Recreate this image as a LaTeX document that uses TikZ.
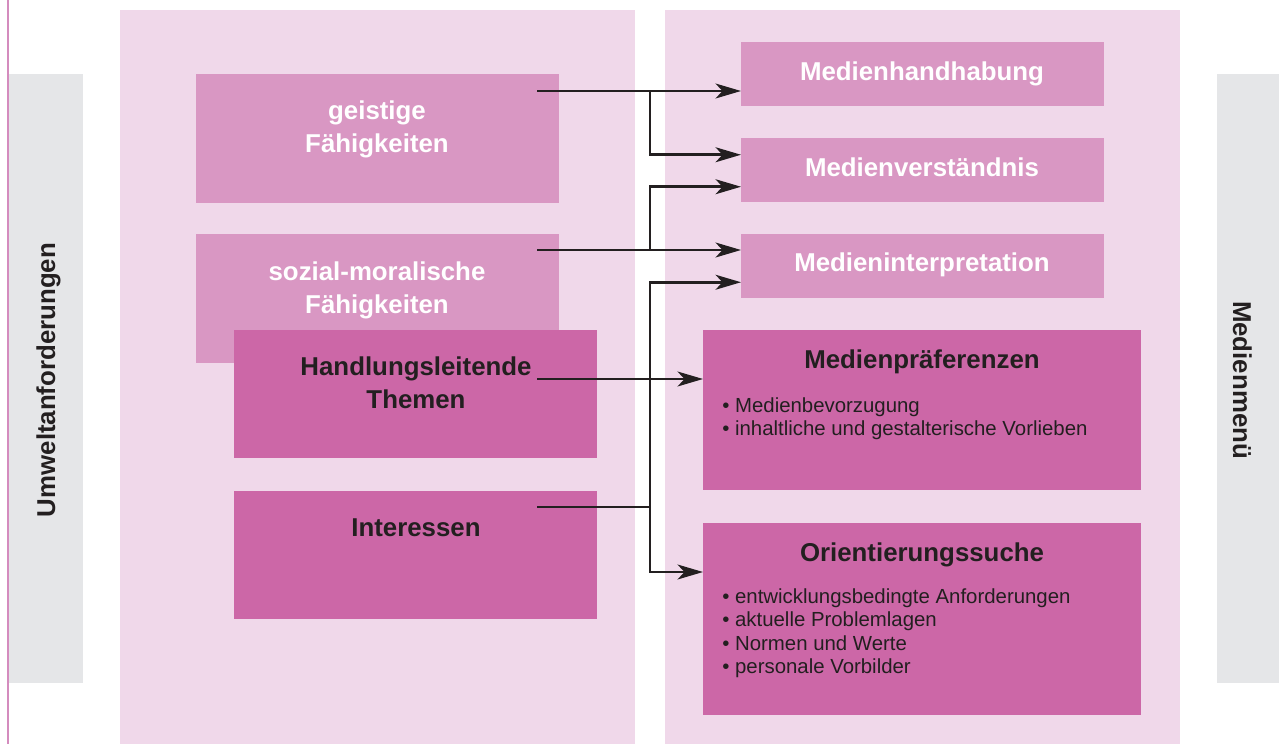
\documentclass[tikz,border=0pt]{standalone}
\usepackage{fontspec}
\setmainfont{Liberation Sans}
\usetikzlibrary{arrows.meta,positioning}

\definecolor{panelpink}{RGB}{240,216,234}
\definecolor{hellpink}{RGB}{217,151,195}
\definecolor{dunkelpink}{RGB}{204,103,167}
\definecolor{seitengrau}{RGB}{229,230,232}
\definecolor{linienpink}{RGB}{212,140,190}
\definecolor{schrift}{RGB}{35,31,32}

\tikzset{
  feld/.style={anchor=north west, inner sep=0pt, outer sep=0pt, minimum width=7.26cm},
  hell/.style={feld, fill=hellpink},
  dunkel/.style={feld, fill=dunkelpink},
  titel/.style={font=\fontsize{14.7}{18.7}\selectfont\bfseries, align=center, inner sep=0pt},
  liste/.style={font=\fontsize{11.6}{13.4}\selectfont, align=left, inner sep=0pt, anchor=north west, text=schrift},
  pfeil/.style={line width=1.5pt, draw=schrift, -{Stealth[length=14.5pt,width=8.5pt,inset=4pt]}},
}

\begin{document}
\begin{tikzpicture}[x=0.02cm, y=-0.02cm]
\useasboundingbox (0,0) rectangle (1279,744);
% background
\fill[panelpink] (120,10) rectangle (635,744);
\fill[panelpink] (665,10) rectangle (1180,744);
\fill[seitengrau] (9,74) rectangle (83,683);
\fill[seitengrau] (1217,74) rectangle (1279,683);
\draw[linienpink, line width=1.2pt] (8,0) -- (8,744);
\node[titel, rotate=90, anchor=base, text=schrift] (umwelt) at (55,380) {Umweltanforderungen};
\node[titel, rotate=-90, anchor=base, text=schrift] (menue) at (1233,380) {Medienmenü};

% left side
\node[hell, minimum height=2.58cm] (geist) at (196,74) {};
\node[hell, minimum height=2.58cm] (sozial) at (196,234) {};
\node[dunkel, minimum height=2.56cm] (handl) at (234,330) {};
\node[dunkel, minimum height=2.56cm] (inter) at (234,491) {};
\node[titel, text=white] (geist-t) at (377,129) {geistige\\Fähigkeiten};
\node[titel, text=white] (sozial-t) at (377,290) {sozial-moralische\\Fähigkeiten};
\node[titel, text=schrift] (handl-t) at (416,383) {Handlungsleitende\\Themen};
\node[titel, text=schrift, anchor=base] (inter-t) at (416,536) {Interessen};

% right side
\node[hell, minimum height=1.29cm] (handhab) at (741,42) {};
\node[hell, minimum height=1.29cm] (vers) at (741,138) {};
\node[hell, minimum height=1.29cm] (interp) at (741,234) {};
\node[titel, text=white, anchor=base] (handhab-t) at (922,80) {Medienhandhabung};
\node[titel, text=white, anchor=base] (vers-t) at (922,176) {Medienverständnis};
\node[titel, text=white, anchor=base] (interp-t) at (922,271) {Medieninterpretation};

\node[dunkel, minimum width=8.76cm, minimum height=3.2cm] (praef) at (703,330) {};
\node[titel, text=schrift, anchor=base] (praef-t) at (922,368) {Medienpräferenzen};
\node[liste] (praef-l) at (722,397) {• Medienbevorzugung\\• inhaltliche und gestalterische Vorlieben};

\node[dunkel, minimum width=8.76cm, minimum height=3.84cm] (orient) at (703,523) {};
\node[titel, text=schrift, anchor=base] (orient-t) at (922,561) {Orientierungssuche};
\node[liste] (orient-l) at (722,588) {• entwicklungsbedingte Anforderungen\\• aktuelle Problemlagen\\• Normen und Werte\\• personale Vorbilder};

% connectors
\coordinate (trunk) at (650,0);
\coordinate (ga) at (537,91);
\coordinate (sa) at (537,250);
\coordinate (ha) at (537,379);
\coordinate (ia) at (537,507);
\coordinate (ob) at (650,572);
\draw[pfeil] (ga) -- (ga -| handhab.west);
\draw[pfeil] (ga -| trunk) |- ([yshift=0.31cm]vers.west);
\draw[pfeil] (sa) -- (sa -| interp.west);
\draw[pfeil] (sa -| trunk) |- ([yshift=-0.33cm]vers.west);
\draw[pfeil] (ha) -- (ha -| praef.west);
\draw[pfeil] (ia) -| (ob) -- (ob -| orient.west);
\draw[pfeil] (ia -| trunk) |- ([yshift=-0.32cm]interp.west);
\end{tikzpicture}
\end{document}
